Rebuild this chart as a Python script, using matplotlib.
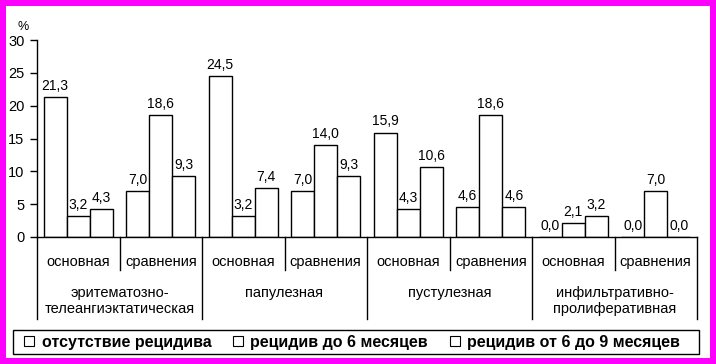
import matplotlib
matplotlib.use("Agg")
import matplotlib.pyplot as plt
from matplotlib.patches import Rectangle, Patch
import numpy as np

plt.rcParams["font.family"] = ["Liberation Sans", "DejaVu Sans"]

# forms of the disease (top level) and patient groups (second level)
forms = ["эритематозно-\nтелеангиэктатическая", "папулезная",
         "пустулезная", "инфильтративно-\nпролиферативная"]
groups = ["основная", "сравнения"]

series_names = ["отсутствие рецидива", "рецидив до 6 месяцев",
                "рецидив от 6 до 9 месяцев"]

# values per subgroup (form x group), in the order of the x axis
no_relapse = [21.3, 7.0, 24.5, 7.0, 15.9, 4.6, 0.0, 0.0]
relapse_6 = [3.2, 18.6, 3.2, 14.0, 4.3, 18.6, 2.1, 7.0]
relapse_6_9 = [4.3, 9.3, 7.4, 9.3, 10.6, 4.6, 3.2, 0.0]

yticks = [0, 5, 10, 15, 20, 25, 30]

W, H = 716, 364
fig = plt.figure(figsize=(W / 100, H / 100), dpi=100, facecolor="#FF00FF")
# white page inside the magenta frame
fig.patches.append(Rectangle((6 / W, 6 / H), 704 / W, 352 / H,
                             transform=fig.transFigure, facecolor="white",
                             edgecolor="none", zorder=-10))

ax = fig.add_axes([37 / W, 1 - 237 / H, 660 / W, 197 / H])
ax.set_facecolor("white")

x = np.arange(len(no_relapse))
bw = 0.28
series = [no_relapse, relapse_6, relapse_6_9]
for i, vals in enumerate(series):
    pos = x + (i - 1) * bw
    ax.bar(pos, vals, width=bw, facecolor="white", edgecolor="black",
           linewidth=1.0, zorder=2)
    for p, v in zip(pos, vals):
        ax.annotate("{:.1f}".format(v).replace(".", ","), (p, v),
                    xytext=(0, 3), textcoords="offset points",
                    ha="center", va="bottom", fontsize=10)

ax.set_xlim(-0.5, len(x) - 0.5)
ax.set_ylim(0, 30)
ax.set_yticks(yticks)
ax.set_yticklabels([str(t) for t in yticks], fontsize=10.5)
ax.tick_params(axis="y", direction="out", length=5, width=1, pad=4)
ax.set_xticks([])
for side in ["top", "right"]:
    ax.spines[side].set_visible(False)
ax.spines["left"].set_linewidth(1)
ax.spines["bottom"].set_linewidth(1)

ax.text(-0.021, 1.035, "%", transform=ax.transAxes, ha="center",
        va="bottom", fontsize=9)

# hierarchical category axis
tr = ax.get_xaxis_transform()
for k in range(len(x)):
    ax.text(x[k], -0.127, groups[k % 2], transform=tr, ha="center",
            va="center", fontsize=10.5)
for k in range(len(x) + 1):
    bottom = -0.416 if k % 2 == 0 else -0.168
    ax.plot([k - 0.5, k - 0.5], [0, bottom], transform=tr, color="black",
            linewidth=1, clip_on=False)
for j, name in enumerate(forms):
    ax.text(2 * j + 0.5, -0.248, name, transform=tr, ha="center",
            va="top", fontsize=10.5, linespacing=1.15)

# legend: frame drawn separately, entries laid out from the left edge
fig.patches.append(Rectangle((13 / W, 1 - 354 / H), 686 / W, 24 / H,
                             transform=fig.transFigure, facecolor="white",
                             edgecolor="black", linewidth=1, zorder=1))
handles = [Patch(facecolor="white", edgecolor="black", linewidth=0.8)
           for _ in series_names]
leg = fig.legend(handles, series_names, ncol=3, loc="center left",
                 bbox_to_anchor=(24 / W, 1 - 342 / H), frameon=False,
                 handlelength=0.65, handleheight=0.65, handletextpad=0.45,
                 columnspacing=1.35, borderpad=0, borderaxespad=0,
                 prop={"size": 11.5, "weight": "bold"})
leg.set_zorder(2)

fig.savefig("out.png", dpi=100, facecolor=fig.get_facecolor())
